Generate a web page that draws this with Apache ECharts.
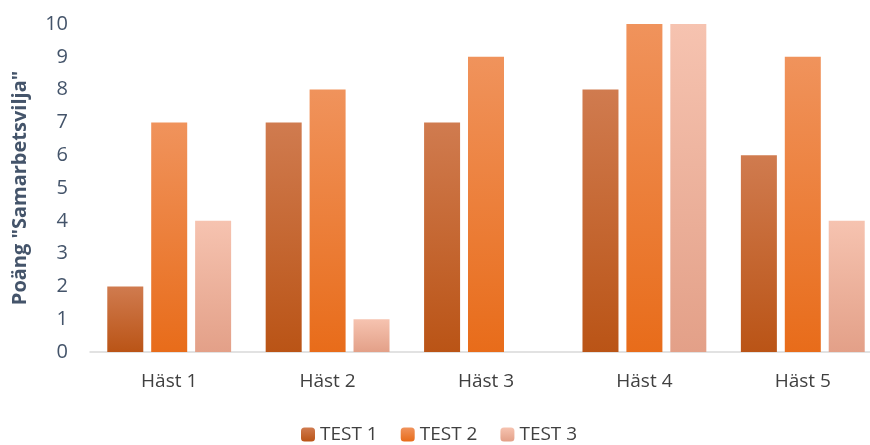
<!DOCTYPE html>
<html>
<head>
<meta charset="utf-8">
<script src="https://cdn.jsdelivr.net/npm/echarts@6/dist/echarts.min.js"></script>
<style>
  html, body { margin: 0; padding: 0; background: #fff; overflow: hidden; }
  #chart { width: 882px; height: 445px; }
</style>
</head>
<body>
<div id="chart"></div>
<script>
var categories = ['Häst 1', 'Häst 2', 'Häst 3', 'Häst 4', 'Häst 5'];
var test1 = [2, 7, 7, 8, 6];
var test2 = [7, 8, 9, 10, 9];
var test3 = [4, 1, 0, 10, 4];
var seriesNames = ['TEST 1', 'TEST 2', 'TEST 3'];

function grad(top, bottom) {
  return new echarts.graphic.LinearGradient(0, 0, 0, 1, [
    { offset: 0, color: top },
    { offset: 1, color: bottom }
  ]);
}

// plot runs past the right edge of the picture, so the div is a bit wider than the window
var myChart = echarts.init(document.getElementById('chart'));
var font = 'Open Sans';
var option = {
  animation: false,
  textStyle: { fontFamily: font },
  legend: {
    data: seriesNames,
    bottom: -4,
    left: 296,
    itemWidth: 14,
    itemHeight: 14,
    itemGap: 23,
    textStyle: { fontSize: 19, color: '#404040', fontFamily: font }
  },
  grid: {
    left: 90,
    right: 0,
    top: 24,
    bottom: 93
  },
  xAxis: {
    type: 'category',
    data: categories,
    axisLine: { lineStyle: { color: '#d9d9d9', width: 1.5 } },
    axisTick: { show: false },
    axisLabel: { fontSize: 19, color: '#404040', margin: 20 }
  },
  yAxis: {
    type: 'value',
    min: 0,
    max: 10,
    interval: 1,
    name: 'Poäng "Samarbetsvilja"',
    nameLocation: 'middle',
    nameGap: 60,
    nameTextStyle: { fontSize: 20, fontWeight: 'bold', color: '#44546a' },
    splitLine: { show: false },
    axisLine: { show: false },
    axisTick: { show: false },
    axisLabel: { fontSize: 20, color: '#44546a', margin: 22 }
  },
  series: [
    {
      name: seriesNames[0],
      type: 'bar',
      data: test1,
      barWidth: 36,
      barGap: '22%',
      itemStyle: { color: grad('#d07b4f', '#ba5416') }
    },
    {
      name: seriesNames[1],
      type: 'bar',
      data: test2,
      barWidth: 36,
      barGap: '22%',
      itemStyle: { color: grad('#f0935c', '#e86c1a') }
    },
    {
      name: seriesNames[2],
      type: 'bar',
      data: test3,
      barWidth: 36,
      barGap: '22%',
      itemStyle: { color: grad('#f6c3b0', '#e3a088') }
    }
  ]
};
myChart.setOption(option);
window.addEventListener('resize', function () {
  myChart.resize();
});
</script>
</body>
</html>
